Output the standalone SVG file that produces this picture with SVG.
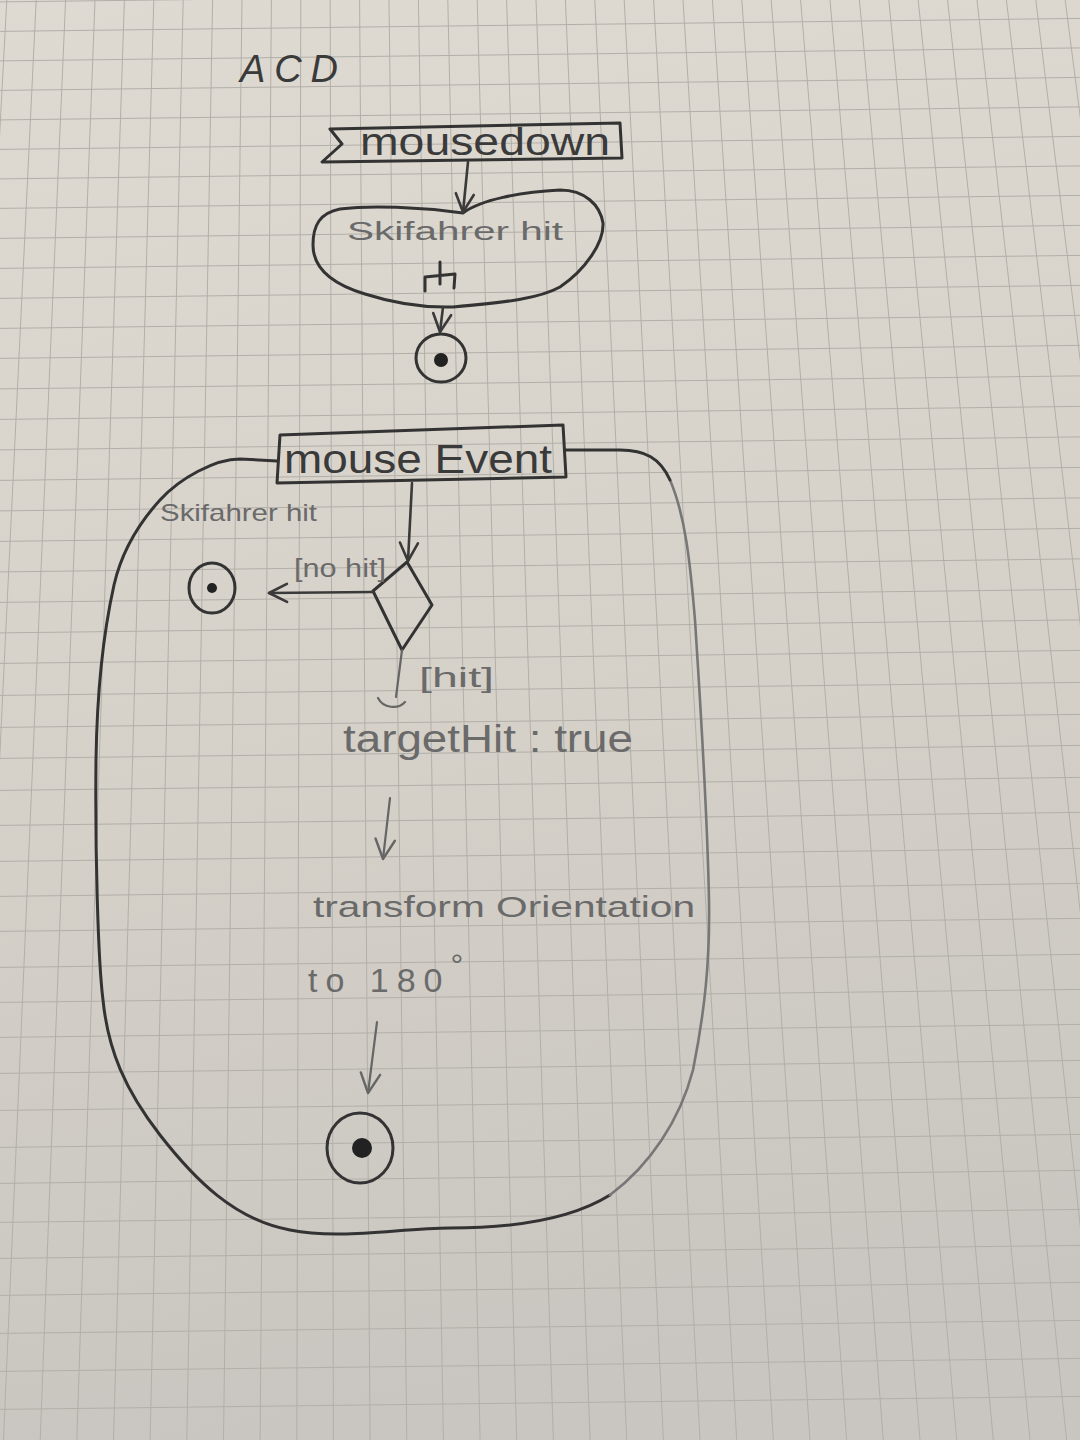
<svg xmlns="http://www.w3.org/2000/svg" width="1080" height="1440" viewBox="0 0 1080 1440">
<defs>
<linearGradient id="paper" x1="0" y1="0" x2="0.15" y2="1">
<stop offset="0" stop-color="#dedad2"/>
<stop offset="0.5" stop-color="#d7d2c9"/>
<stop offset="1" stop-color="#c9c6c1"/>
</linearGradient>
<marker id="vhead" viewBox="0 0 24 24" refX="21" refY="12" markerWidth="24" markerHeight="24" markerUnits="userSpaceOnUse" orient="auto">
<path d="M3 3 L21 12 L3 21" fill="none" stroke="#3a3a3a" stroke-width="2.6" stroke-linecap="round" stroke-linejoin="round"/>
</marker>
<marker id="vheadLight" viewBox="0 0 24 24" refX="21" refY="12" markerWidth="26" markerHeight="26" markerUnits="userSpaceOnUse" orient="auto">
<path d="M3 3 L21 12 L3 21" fill="none" stroke="#666" stroke-width="2.2" stroke-linecap="round" stroke-linejoin="round"/>
</marker>
</defs>
<style>
.grid{fill:none;stroke:#b2afa9;stroke-width:1}
.pen{fill:none;stroke:#333;stroke-width:3;stroke-linecap:round;stroke-linejoin:round}
.penLight{fill:none;stroke:#777;stroke-width:2.6;stroke-linecap:round;stroke-linejoin:round}
.conn{fill:none;stroke:#3a3a3a;stroke-width:2.6;stroke-linecap:round}
.connLight{fill:none;stroke:#666;stroke-width:2.2;stroke-linecap:round}
.dot{fill:#222}
.txt{font-family:"Liberation Sans","DejaVu Sans",sans-serif;fill:#3a3a3a}
.txtLight{font-family:"Liberation Sans","DejaVu Sans",sans-serif;fill:#6a6a6a}
</style>
<rect x="0" y="0" width="1080" height="1440" fill="url(#paper)"/>
<g id="grid">
<path class="grid" d="M6.8 0L-69.8 1440M36.2 0L-33.2 1440M65.6 0L3.5 1440M95 0L40.2 1440M124.4 0L76.8 1440M153.8 0L113.5 1440M183.2 0L150.1 1440M212.6 0L186.8 1440M242 0L223.5 1440M271.4 0L260.1 1440M300.8 0L296.8 1440M330.2 0L333.4 1440M359.6 0L370.1 1440M389 0L406.8 1440M418.4 0L443.4 1440M447.8 0L480.1 1440M477.2 0L516.7 1440M506.6 0L553.4 1440M536 0L590.1 1440M565.4 0L626.7 1440M594.8 0L663.4 1440M624.2 0L700 1440M653.6 0L736.7 1440M683 0L773.4 1440M712.4 0L810 1440M741.8 0L846.7 1440M771.2 0L883.3 1440M800.6 0L920 1440M830 0L956.7 1440M859.4 0L993.3 1440M888.8 0L1030 1440M918.2 0L1066.6 1440M947.6 0L1103.3 1440M977 0L1140 1440M1006.4 0L1176.6 1440M1035.8 0L1213.3 1440M1065.2 0L1250 1440"/>
<path class="grid" d="M0 1.9L1080 -11.1M0 31.4L1080 18.4M0 60.9L1080 47.9M0 90.4L1080 77.4M0 119.9L1080 106.9M0 149.4L1080 136.4M0 178.9L1080 165.9M0 208.4L1080 195.4M0 238.4L1080 225.4M0 268.4L1080 255.4M0 298.4L1080 285.4M0 328.4L1080 315.4M0 358.4L1080 345.4M0 388.9L1080 375.9M0 419.4L1080 406.4M0 449.9L1080 436.9M0 480.4L1080 467.4M0 510.9L1080 497.9M0 541.4L1080 528.4M0 571.9L1080 558.9M0 602.4L1080 589.4M0 632.9L1080 619.9M0 663.4L1080 650.4M0 695.4L1080 682.4M0 727.4L1080 714.4M0 758.4L1080 745.4M0 790.4L1080 777.4M0 825.4L1080 812.4M0 861.4L1080 848.4M0 896.4L1080 883.4M0 931.4L1080 918.4M0 967.4L1080 954.4M0 1002.4L1080 989.4M0 1037.4L1080 1024.4M0 1073.4L1080 1060.4M0 1110.4L1080 1097.4M0 1147.4L1080 1134.4M0 1183.4L1080 1170.4M0 1222.4L1080 1209.4M0 1258.4L1080 1245.4M0 1295.4L1080 1282.4M0 1333.4L1080 1320.4M0 1371.4L1080 1358.4M0 1409.4L1080 1396.4"/>
</g>
<g id="title">
<text class="txt" x="240" y="82" font-size="38" font-style="italic" textLength="98" lengthAdjust="spacing">ACD</text>
</g>
<g id="mousedown">
<path class="pen" d="M330 129 L620 123 L622 158 L322 162 L342 144 Z"/>
<text class="txt" x="360" y="155" font-size="38" textLength="250" lengthAdjust="spacingAndGlyphs">mousedown</text>
</g>
<g id="skifahrer-hit-action">
<path class="pen" d="M463 213 C480 200,520 192,560 190 C585 190,600 205,603 223 C604 243,585 270,560 287 C540 298,510 302,453 307 C420 308,390 302,365 294 C335 285,313 270,313 245 C313 225,320 213,340 209 C370 205,420 207,463 213 Z"/>
<text class="txtLight" x="347" y="240" font-size="26" textLength="216" lengthAdjust="spacingAndGlyphs">Skifahrer hit</text>
<path class="pen" stroke-width="2.4" d="M440 262 L440 284 M425 291 L425 277 L455 274 L454 288"/>
</g>
<g id="final-1">
<ellipse class="pen" cx="441" cy="358" rx="25" ry="24"/>
<circle class="dot" cx="441" cy="360" r="7"/>
</g>
<g id="region">
<path class="pen" d="M277 461 L240 459 C215 459,180 478,160 500 C140 522,122 550,114 585 C104 630,97 690,96 760 C95 850,98 960,103 1000 C108 1050,125 1090,160 1135 C195 1180,235 1220,290 1230 C340 1240,400 1228,450 1228 C510 1228,570 1220,610 1195"/>
<path class="penLight" d="M610 1195 C650 1165,680 1120,693 1070 C705 1010,710 960,709 900 C707 800,700 700,695 620 C690 560,685 515,670 480"/>
<path class="pen" d="M670 480 C660 458,645 450,620 450 L565 450"/>
<text class="txtLight" x="160" y="521" font-size="24" textLength="157" lengthAdjust="spacingAndGlyphs">Skifahrer hit</text>
</g>
<g id="mouse-event">
<path class="pen" d="M280 435 L563 425 L566 477 L277 483 Z"/>
<text class="txt" x="284" y="473" font-size="40" textLength="268" lengthAdjust="spacingAndGlyphs">mouse Event</text>
</g>
<g id="decision">
<path class="pen" d="M407 562 L432 605 L402 650 L373 591 Z"/>
</g>
<g id="final-2">
<ellipse class="pen" cx="212" cy="588" rx="23" ry="25"/>
<circle class="dot" cx="212" cy="588" r="5"/>
</g>
<g id="targetHit">
<text class="txtLight" x="343" y="752" font-size="38" textLength="290" lengthAdjust="spacingAndGlyphs">targetHit : true</text>
</g>
<g id="transform">
<text class="txtLight" x="313" y="917" font-size="30" fill="#777" textLength="382" lengthAdjust="spacingAndGlyphs">transform Orientation</text>
<text class="txtLight" x="308" y="992" font-size="34" letter-spacing="8">to 180<tspan font-size="32" dy="-16">°</tspan></text>
</g>
<g id="final-3">
<ellipse class="pen" cx="360" cy="1148" rx="33" ry="35"/>
<circle class="dot" cx="362" cy="1148" r="10"/>
</g>
<g id="connectors">
<path class="conn" d="M468 162 L463 212" marker-end="url(#vhead)"/>
<path class="conn" d="M443 307 L440 332" marker-end="url(#vhead)"/>
<path class="conn" d="M412 483 L408 561" marker-end="url(#vhead)"/>
<path class="conn" d="M373 592 L269 593" marker-end="url(#vhead)"/>
<path class="connLight" d="M402 650 L396 697"/>
<path class="connLight" d="M378 698 C383 708,398 710,405 702"/>
<path class="connLight" d="M390 798 L383 859" marker-end="url(#vheadLight)"/>
<path class="connLight" d="M377 1022 L368 1093" marker-end="url(#vheadLight)"/>
</g>
<g id="guards">
<text class="txtLight" x="294" y="577" font-size="26" textLength="92" lengthAdjust="spacingAndGlyphs">[no hit]</text>
<text class="txtLight" x="419" y="687" font-size="28" textLength="75" lengthAdjust="spacingAndGlyphs">[hit]</text>
</g>
</svg>
